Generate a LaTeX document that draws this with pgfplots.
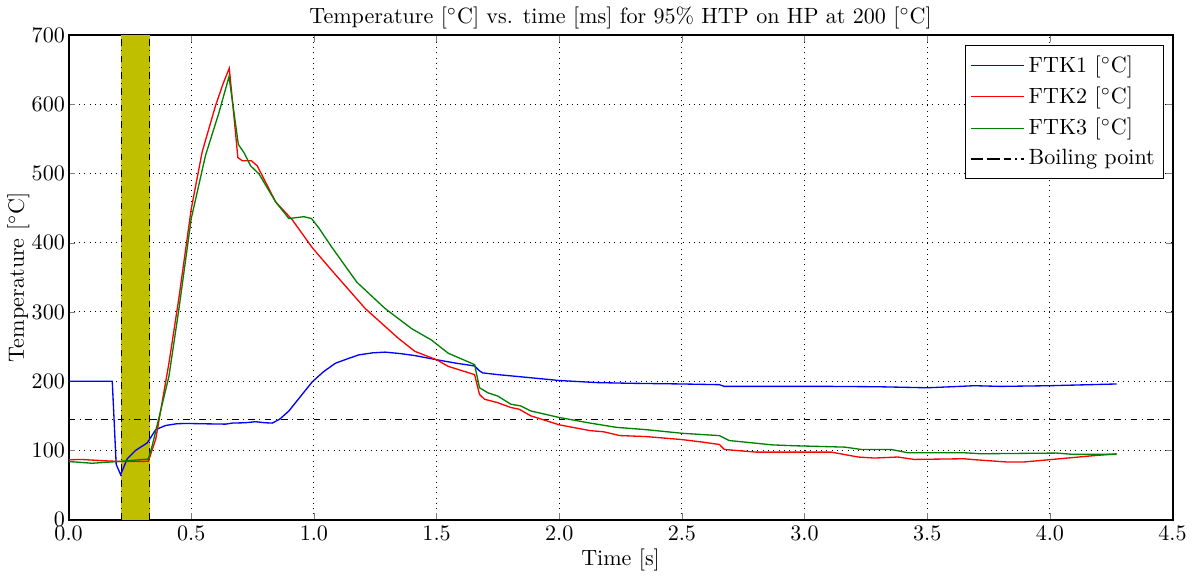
\documentclass[border=0pt]{standalone}
\usepackage{pgfplots}
\pgfplotsset{compat=1.18}
\definecolor{mplb}{rgb}{0,0,1}
\definecolor{mplr}{rgb}{1,0,0}
\definecolor{mplg}{rgb}{0,0.5,0}
\definecolor{mply}{rgb}{0.75,0.75,0}
\begin{document}
\begin{tikzpicture}
\begin{axis}[
  scale only axis,
  width=500pt, height=219.5pt,
  xmin=0, xmax=4.5, ymin=0, ymax=700,
  xtick={0,0.5,...,4.5},
  ytick={0,100,...,700},
  xticklabel style={inner ysep=3pt, /pgf/number format/.cd, fixed, fixed zerofill, precision=1},
  yticklabel style={inner xsep=1.5pt},
  scaled x ticks=false,
  tick align=inside,
  major tick length=3pt,
  minor tick num=0,
  grid=major,
  major grid style={dotted, black, line width=0.45pt},
  axis line style={line width=0.9pt},
  title={Temperature [$^\circ$C] vs. time [ms] for 95\% HTP on HP at 200 [$^\circ$C]},
  title style={yshift=-7pt},
  xlabel={Time [s]},
  ylabel={Temperature [$^\circ$C]},
  xlabel style={yshift=3pt},
  ylabel style={yshift=-4pt},
  legend cell align=left,
  legend image code/.code={\path (-2.5pt,0pt) -- (21.5pt,0pt); \draw[#1] (0pt,0pt) -- (13.6pt,0pt);},
  legend style={at={(0.9925,0.98)}, anchor=north east, draw=black, line width=0.6pt, fill=white, row sep=0pt, inner xsep=2pt, inner ysep=2pt, nodes={inner xsep=2pt, inner ysep=2.6pt}},
]
\addlegendimage{mplb, line width=0.6pt}
\addlegendentry{FTK1 [$^\circ$C]}
\addlegendimage{mplr, line width=0.6pt}
\addlegendentry{FTK2 [$^\circ$C]}
\addlegendimage{mplg, line width=0.6pt}
\addlegendentry{FTK3 [$^\circ$C]}
\addlegendimage{black, dashdotted, line width=0.6pt}
\addlegendentry{Boiling point}
\addplot[fill=mply, draw=none, forget plot] coordinates {(0.215,700) (0.33,700)} \closedcycle;
\addplot[black, dashdotted, line width=0.6pt, forget plot] coordinates {(0.215,0) (0.215,700)};
\addplot[black, dashdotted, line width=0.6pt, forget plot] coordinates {(0.33,0) (0.33,700)};
\addplot[black, dashdotted, line width=0.6pt, forget plot] coordinates {(0,145) (4.5,145)};
\addplot[mplb, line width=0.6pt, forget plot] coordinates {
(0,200) (0.178,200) (0.194,80) (0.212,65) (0.239,88) (0.273,100) (0.321,111) (0.355,130) (0.395,136) (0.44,138.5) (0.477,139) (0.55,138.5) (0.64,138) (0.667,139.5) (0.72,140) (0.762,141.5) (0.80,140) (0.83,139.5) (0.86,145) (0.898,157) (0.95,180) (0.993,199) (1.04,214) (1.088,226) (1.142,233) (1.183,238) (1.24,241) (1.29,242) (1.35,240) (1.412,237) (1.5,231) (1.58,226) (1.655,222) (1.675,215) (1.688,212) (1.75,209.5) (1.884,205) (2.0,201) (2.154,198) (2.289,197) (2.5,196) (2.653,195) (2.673,192.5) (2.8,192.5) (2.964,192.5) (3.109,192.5) (3.3,192) (3.5,190.5) (3.6,192) (3.692,193.5) (3.8,192.5) (4.0,193.5) (4.272,196)};
\addplot[mplr, line width=0.6pt, forget plot] coordinates {
(0,86.5) (0.05,87) (0.1,86) (0.15,85) (0.212,84) (0.325,84.3) (0.355,116) (0.409,226) (0.45,321) (0.5,449) (0.545,532) (0.599,598) (0.63,630) (0.655,652) (0.672,590) (0.69,523) (0.708,518.5) (0.745,518.5) (0.769,511) (0.844,459) (0.912,433) (0.993,393) (1.074,359.5) (1.209,305) (1.344,262) (1.412,243) (1.5,231) (1.547,221.5) (1.655,209.5) (1.665,195) (1.675,181) (1.695,174) (1.749,169) (1.803,162) (1.837,159.5) (1.884,150) (2.0,137) (2.126,128.6) (2.18,127) (2.247,121.5) (2.355,120) (2.5,115.7) (2.585,112) (2.653,108.6) (2.673,101.4) (2.801,97.6) (2.964,97.6) (3.109,97.6) (3.218,90.5) (3.285,89) (3.38,90.5) (3.447,87) (3.65,88) (3.69,86.7) (3.826,83.3) (3.893,83.3) (4.0,86.7) (4.164,92) (4.272,95.2)};
\addplot[mplg, line width=0.6pt, forget plot] coordinates {
(0,84) (0.096,81.5) (0.212,84.3) (0.325,87.6) (0.341,107) (0.409,207) (0.45,305) (0.5,435) (0.558,526) (0.613,588) (0.654,640) (0.692,542) (0.715,530) (0.742,511) (0.776,499.5) (0.844,459) (0.898,435) (0.959,437.6) (0.99,435) (1.02,421.4) (1.074,393) (1.175,343) (1.29,305) (1.398,276) (1.479,259.5) (1.547,240.5) (1.655,224) (1.675,190.5) (1.709,183.3) (1.749,178.6) (1.803,166.7) (1.843,164.3) (1.884,157) (2.0,147.6) (2.126,139.5) (2.234,133.3) (2.355,130) (2.5,124.8) (2.653,121.4) (2.693,114.3) (2.869,108) (2.964,106.7) (3.164,104.8) (3.231,101.4) (3.353,101.4) (3.42,96.7) (3.65,96.7) (3.718,95.2) (4.028,96.2) (4.096,94.3) (4.272,94.3)};
\end{axis}
\end{tikzpicture}
\end{document}
